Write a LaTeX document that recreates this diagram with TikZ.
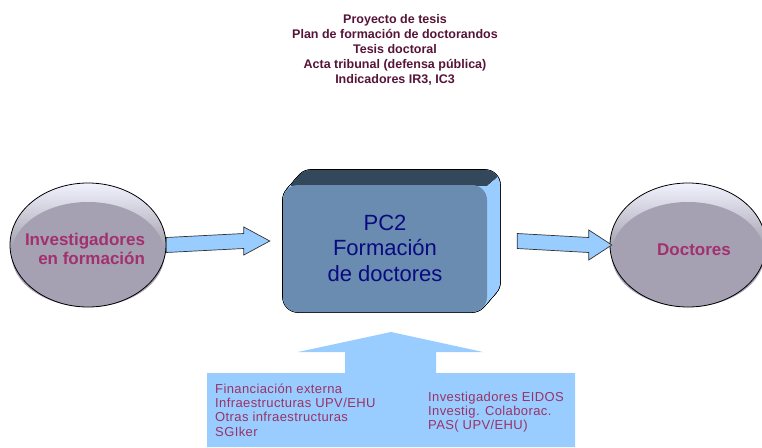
\documentclass[tikz,border=0pt]{standalone}
\usepackage{fontspec}
\setmainfont{Liberation Sans}
\usetikzlibrary{shapes.geometric,calc}
\definecolor{toptxt}{HTML}{561438}
\definecolor{disktxt}{HTML}{A3306E}
\definecolor{diskface}{HTML}{A5A1B3}
\definecolor{arrowblue}{HTML}{99CCFF}
\definecolor{boxfront}{HTML}{6A8CB0}
\definecolor{boxtop}{HTML}{34485C}
\definecolor{navytxt}{HTML}{0A0A80}
\definecolor{bottxt}{HTML}{993366}
\tikzset{
  disk/.style={ellipse, minimum width=156pt, minimum height=124pt, inner sep=0pt,
    top color=white!95!blue, bottom color=black!45!diskface},
  disktext/.style={text=disktxt, font=\bfseries\fontsize{17}{19}\selectfont, inner sep=0pt},
  barrow/.style={fill=arrowblue, draw=black!80, line width=0.7pt, line join=miter},
  bottext/.style={text=bottxt, font=\fontsize{13}{14.3}\selectfont\addfontfeatures{LetterSpace=3}, align=left, inner sep=0pt, anchor=west},
  boxshape/.style={rounded corners=15pt}
}
\begin{document}
\begin{tikzpicture}[x=1pt,y=-1pt]
\useasboundingbox (0,0) rectangle (762,447);
\fill[white] (0,0) rectangle (762,447);

% top text
\node[text=toptxt, font=\bfseries\fontsize{12.5}{15}\selectfont, align=center, inner sep=0pt] (docs) at (395,50)
 {Proyecto de tesis\\Plan de formación de doctorandos\\Tesis doctoral\\Acta tribunal (defensa pública)\\Indicadores IR3, IC3};

% left disk
\node[disk] (inv) at (88,245) {};
\fill[diskface] (88,254.5) ellipse [x radius=76.5pt, y radius=52.5pt];
\draw[black, line width=0.8pt] (inv.center) ellipse [x radius=78pt, y radius=62pt];
\node[disktext, align=right] (invt) at (85,249) {Investigadores\\en formación};

% right disk
\node[disk] (doc) at (688,245) {};
\fill[diskface] (688,254.5) ellipse [x radius=76.5pt, y radius=52.5pt];
\draw[black, line width=0.8pt] (doc.center) ellipse [x radius=78pt, y radius=62pt];
\node[disktext] (doct) at (694,250) {Doctores};

% center box (extruded)
\node[rectangle, minimum width=217pt, minimum height=142pt, inner sep=0pt] (pc2) at (391.5,241) {};
\foreach \i in {0,...,60}{
  \draw[boxshape, black, line width=1.6pt] ($(283,185)+(13*\i/60,-15*\i/60)$) rectangle ($(487,312)+(13*\i/60,-15*\i/60)$);
}
\foreach \i in {0,...,60}{
  \fill[boxshape, arrowblue] ($(283,185)+(13*\i/60,-15*\i/60)$) rectangle ($(487,312)+(13*\i/60,-15*\i/60)$);
}
\begin{scope}
  \clip (260,150) -- (530,150) -- (487,185) -- (260,185) -- cycle;
  \foreach \i in {0,...,60}{
    \fill[boxshape, boxtop] ($(283,185)+(13*\i/60,-15*\i/60)$) rectangle ($(487,312)+(13*\i/60,-15*\i/60)$);
  }
\end{scope}
\fill[boxshape, boxfront] (283,185) rectangle (487,312);
\node[text=navytxt, font=\fontsize{22}{25.5}\selectfont, align=center, inner sep=0pt] (pc2t) at (385,248) {PC2\\Formación\\de doctores};

% left arrow
\coordinate (a1s) at (inv.east);
\coordinate (a1e) at ($(pc2.west)+(-13,0)$);
\draw[barrow] ($(a1s)+(0,-7.5)$) -- ($(a1e)+(-26,-7.5)$) -- ($(a1e)+(-26,-14)$) -- (a1e)
  -- ($(a1e)+(-26,14)$) -- ($(a1e)+(-26,7.5)$) -- ($(a1s)+(0,7.5)$) -- cycle;

% right arrow
\coordinate (a2s) at ($(pc2.east)+(17,0)$);
\coordinate (a2e) at ($(doc.west)+(2,0)$);
\draw[barrow] ($(a2s)+(0,-7.5)$) -- ($(a2e)+(-23,-7.5)$) -- ($(a2e)+(-23,-15)$) -- (a2e)
  -- ($(a2e)+(-23,15)$) -- ($(a2e)+(-23,7.5)$) -- ($(a2s)+(0,7.5)$) -- cycle;

% bottom arrow
\coordinate (btip) at (391,332);
\fill[arrowblue] (207,447) -- (207,373) -- (345,373) -- (345,352) -- (298,352) -- (btip)
  -- (483,352) -- (436,352) -- (436,373) -- (575,373) -- (575,447) -- cycle;
\node[bottext] (res1) at (215,410) {Financiación externa\\Infraestructuras UPV/EHU\\Otras infraestructuras\\SGIker};
\node[bottext] (res2) at (428,412) {Investigadores EIDOS\\Investig. Colaborac.\\PAS( UPV/EHU)};
\end{tikzpicture}
\end{document}
